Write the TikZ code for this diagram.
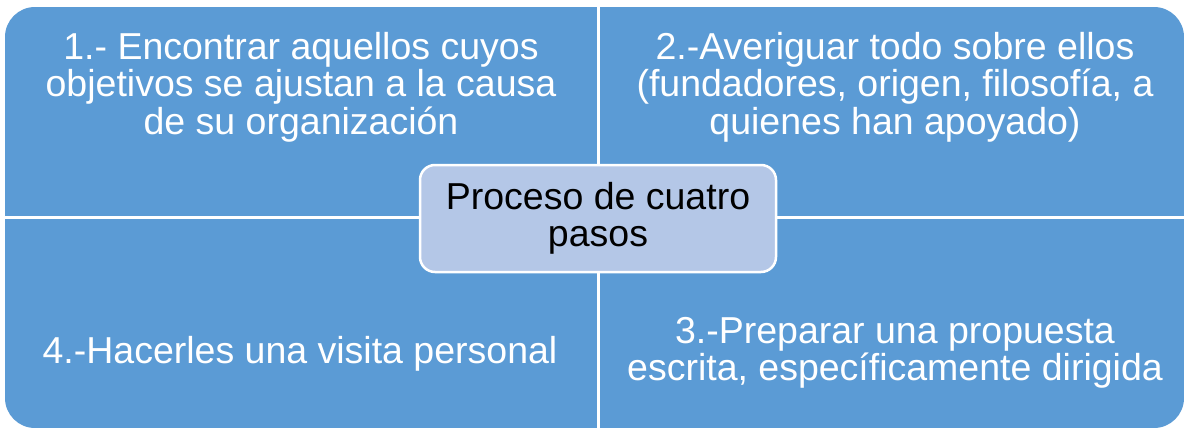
\documentclass[tikz,border=0pt]{standalone}
\usepackage{fontspec}
\setmainfont{Liberation Sans}
\usepackage{tikz}
\usetikzlibrary{positioning}

\definecolor{cuadro}{RGB}{91,155,213}
\definecolor{centro}{RGB}{180,199,231}

\begin{document}
\begin{tikzpicture}[x=1pt,y=-1pt,
                          quadnode/.style={fill=cuadro},
                          textnode/.style={text=white, align=center, font=\fontsize{37.5}{37.5}\selectfont},
                          centernode/.style={rectangle, draw=white, line width=2.5pt, fill=centro, rounded corners=15pt, minimum width=356pt, minimum height=107pt, align=center, font=\fontsize{37.5}{37.5}\selectfont},
                      ]
                      \useasboundingbox[fill=white] (0,0) rectangle (1186,428);
                      % Quadrants
                      \begin{scope}
                      \clip[rounded corners=30pt] (5,7) rectangle (1184,428);
                      \fill[quadnode] (5,7) rectangle (597,216);
                      \fill[quadnode] (600,7) rectangle (1184,216);
                      \fill[quadnode] (5,219) rectangle (597,428);
                      \fill[quadnode] (600,219) rectangle (1184,428);
                      \end{scope}

                      % Nodes
                      \node[textnode]        (paso_1)     at (301,87)    {1.- Encontrar aquellos cuyos\\objetivos se ajustan a la causa\\de su organización};
                      \node[textnode]        (paso_2)     at (895,87)    {2.-Averiguar todo sobre ellos\\(fundadores, origen, filosofía, a\\quienes han apoyado)};
                      \node[textnode]        (paso_3)     at (895,353)   {3.-Preparar una propuesta\\escrita, específicamente dirigida};
                      \node[textnode]        (paso_4)     at (300,354)   {4.-Hacerles una visita personal};
                      \node[centernode]      (proceso)    at (598,218.5) {Proceso de cuatro\\pasos};
                  \end{tikzpicture}
\end{document}
